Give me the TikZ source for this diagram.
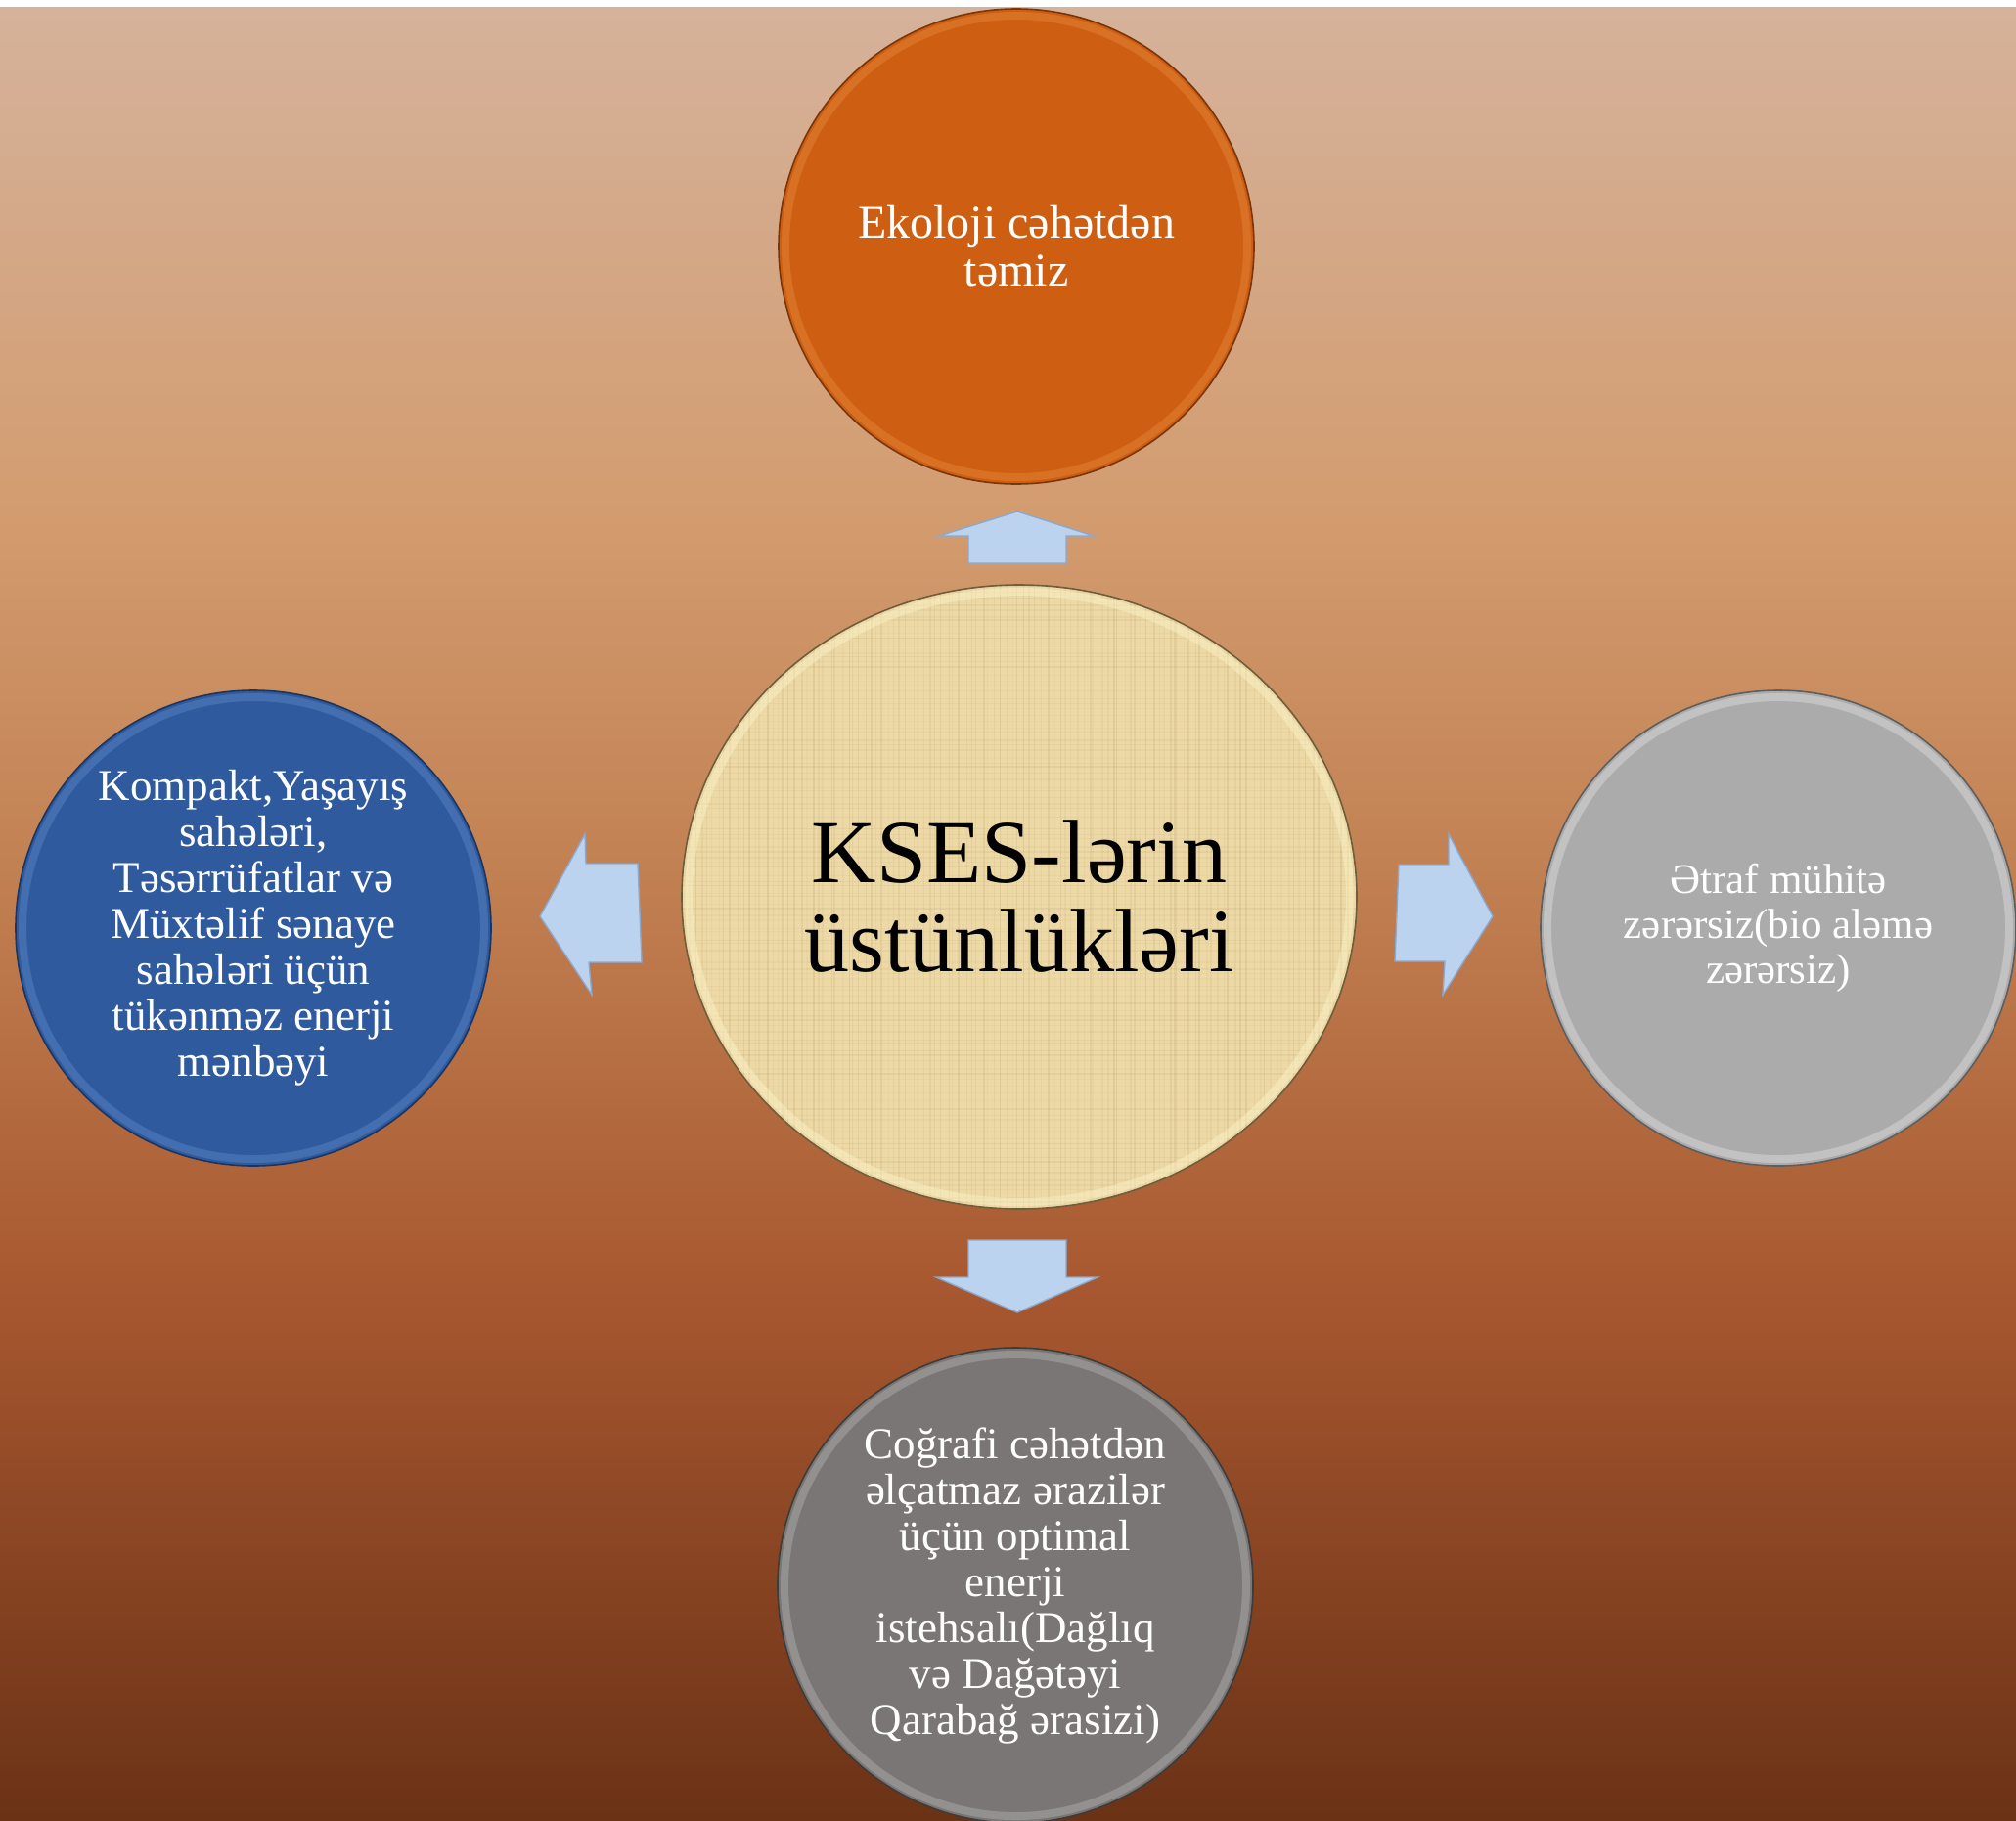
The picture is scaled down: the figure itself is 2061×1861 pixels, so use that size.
\documentclass[tikz,border=0pt]{standalone}
\usepackage{fontspec}
\setmainfont{Liberation Serif}
\usetikzlibrary{shapes.geometric}
\definecolor{bgA}{HTML}{D5B29B}
\definecolor{bgB}{HTML}{D39C6F}
\definecolor{bgC}{HTML}{C07E50}
\definecolor{bgD}{HTML}{A85830}
\definecolor{bgE}{HTML}{6B3216}
\definecolor{orgbase}{HTML}{CD5E12}
\definecolor{orglight}{HTML}{F0974A}
\definecolor{orgdark}{HTML}{7A3508}
\definecolor{blubase}{HTML}{2F5A9E}
\definecolor{blulight}{HTML}{6A94D2}
\definecolor{bludark}{HTML}{1B3560}
\definecolor{gryRbase}{HTML}{ABABAB}
\definecolor{gryRlight}{HTML}{EDEDED}
\definecolor{gryRdark}{HTML}{5E5E5E}
\definecolor{gryBbase}{HTML}{7A7676}
\definecolor{gryBlight}{HTML}{C4C1C1}
\definecolor{gryBdark}{HTML}{3E3B3B}
\definecolor{parch}{HTML}{EDD9A6}
\definecolor{parchlight}{HTML}{FBF1C6}
\definecolor{parchline}{HTML}{9A7E48}
\definecolor{parchdark}{HTML}{6E5E3E}
\definecolor{arrfill}{HTML}{BCD3F0}
\definecolor{arredge}{HTML}{8CA8CF}
\newcommand{\bevring}[4]{%
  \draw[#3, line width=8pt, opacity=0.35] (#1.center) circle [radius=#2-7];
  \draw[#4, line width=1.6pt] (#1.center) circle [radius=#2];
}
\begin{document}
\begin{tikzpicture}[x=1pt,y=-1pt,
  bubble/.style={circle, minimum size=486pt, inner sep=0pt, align=center,
    text=white, font=\fontsize{45}{47}\selectfont},
  blockarrow/.style={fill=arrfill, draw=arredge, line width=1.4pt, line join=miter}]
\useasboundingbox (0,0) rectangle (2061,1861);
% background
\fill[white] (0,0) rectangle (2061,7);
\shade[top color=bgA, bottom color=bgB] (0,7) rectangle (2061,526);
\shade[top color=bgB, bottom color=bgC] (0,525) rectangle (2061,921);
\shade[top color=bgC, bottom color=bgD] (0,920) rectangle (2061,1316);
\shade[top color=bgD, bottom color=bgE] (0,1315) rectangle (2061,1861);
% central parchment ellipse
\coordinate (kc) at (1042,917);
\pgfmathsetseed{7}
\begin{scope}
  \clip (kc) ellipse [x radius=345, y radius=319];
  \fill[parch] (kc) ellipse [x radius=345, y radius=319];
  \foreach \i in {0,...,115}{
    \pgfmathsetmacro{\xx}{697+\i*6+4*rnd}
    \pgfmathsetmacro{\op}{0.04+0.11*rnd}
    \pgfmathsetmacro{\lw}{0.6+1.6*rnd}
    \draw[parchline, opacity=\op, line width=\lw pt] (\xx,598) -- (\xx,1236);
  }
  \foreach \i in {0,...,107}{
    \pgfmathsetmacro{\yy}{598+\i*6+4*rnd}
    \pgfmathsetmacro{\op}{0.03+0.08*rnd}
    \pgfmathsetmacro{\lw}{0.6+1.4*rnd}
    \draw[parchline, opacity=\op, line width=\lw pt] (697,\yy) -- (1387,\yy);
  }
\end{scope}
\draw[parchlight, line width=8pt, opacity=0.5] (kc) ellipse [x radius=338, y radius=312];
\draw[parchdark, line width=1.6pt] (kc) ellipse [x radius=345, y radius=319];
\node[ellipse, minimum width=690pt, minimum height=638pt, inner sep=0pt, align=center,
  font=\fontsize{92}{91}\selectfont] (kses) at (kc) {KSES-lərin\\üstünlükləri};
% outer circles
\node[bubble, fill=orgbase, font=\fontsize{48}{49}\selectfont] (eco) at (1039,252) {Ekoloji cəhətdən\\təmiz};
\bevring{eco}{243}{orglight}{orgdark}
\node[bubble, fill=blubase] (komp) at (259,949) {Kompakt,Yaşayış\\sahələri,\\Təsərrüfatlar və\\Müxtəlif sənaye\\sahələri üçün\\tükənməz enerji\\mənbəyi};
\bevring{komp}{243}{blulight}{bludark}
\node[bubble, fill=gryRbase, font=\fontsize{43}{46}\selectfont] (etraf) at (1818,949) {Ətraf mühitə\\zərərsiz(bio aləmə\\zərərsiz)};
\bevring{etraf}{243}{gryRlight}{gryRdark}
\node[bubble, fill=gryBbase] (cogr) at (1038,1621) {Coğrafi cəhətdən\\əlçatmaz ərazilər\\üçün optimal\\enerji\\istehsalı(Dağlıq\\və Dağətəyi\\Qarabağ ərasizi)};
\bevring{cogr}{243}{gryBlight}{gryBdark}
% block arrows
\draw[blockarrow] (990,576) -- (990,548) -- (960,548) -- (1040,523) -- (1118,548) -- (1090,548) -- (1090,576) -- cycle;
\draw[blockarrow] (990,1268) -- (1090,1268) -- (1090,1306) -- (1122,1306) -- (1040,1342) -- (957,1306) -- (990,1306) -- cycle;
\draw[blockarrow] (652,883) -- (599,883) -- (598,853) -- (552,937) -- (605,1017) -- (602,984) -- (656,984) -- cycle;
\draw[blockarrow] (1430,884) -- (1481,884) -- (1481,853) -- (1526,937) -- (1475,1017) -- (1477,983) -- (1426,983) -- cycle;
\end{tikzpicture}
\end{document}
